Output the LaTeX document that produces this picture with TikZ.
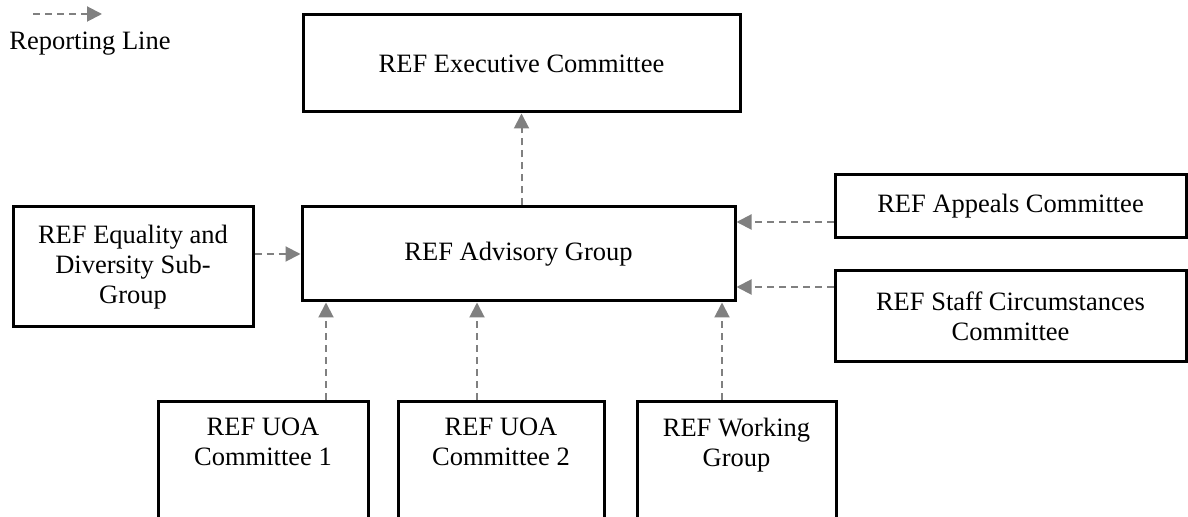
\documentclass[tikz,border=0pt]{standalone}
\usepackage{fontspec}
\setmainfont{Liberation Serif}
\usetikzlibrary{arrows.meta}
\definecolor{arrowgray}{RGB}{128,128,128}
\begin{document}
\begin{tikzpicture}[x=0.5pt,y=-0.5pt,
  box/.style={draw=black, line width=1.5pt, fill=white, rectangle, inner sep=2pt,
    align=center, font=\fontsize{13.25pt}{15pt}\selectfont},
  txt/.style={inner xsep=0pt, inner ysep=0pt, align=center, font=\fontsize{13.25pt}{15pt}\selectfont},
  rep/.style={draw=arrowgray, line width=1pt, dash pattern=on 3.5pt off 2.5pt,
    -{Triangle[width=7.5pt,length=7.5pt]}}
]
\useasboundingbox (0,0) rectangle (1188,517);
\clip (0,0) rectangle (1188,517);

% legend
\coordinate (lg1) at (33,14);
\coordinate (lg2) at (102,14);
\draw[rep] (lg1) -- (lg2);
\node[txt, anchor=base west] (legt) at (9,50) {Reporting Line};

% main boxes
\node[box, minimum width=218.5pt, minimum height=48.5pt] (exec) at (521.5,63.5) {REF Executive Committee};
\node[box, minimum width=216.5pt, minimum height=47pt] (adv) at (518.5,254) {REF Advisory Group};
\node[box, minimum width=120pt, minimum height=60pt] (eq) at (133,267) {REF Equality and\\Diversity Sub-\\Group};
\node[box, minimum width=175.5pt, minimum height=31.5pt] (app) at (1010.5,206.5) {REF Appeals Committee};
\node[box, minimum width=175.5pt, minimum height=45.5pt] (staff) at (1010.5,316.5) {REF Staff Circumstances\\Committee};

% bottom boxes (cut by the lower edge)
\node[box, minimum width=105pt, minimum height=80pt, anchor=north] (uoa1) at (263,400) {};
\node[box, minimum width=103pt, minimum height=80pt, anchor=north] (uoa2) at (501,400) {};
\node[box, minimum width=99.5pt, minimum height=80pt, anchor=north] (wg) at (736.5,400) {};
\node[txt, anchor=north, inner ysep=9pt] (uoa1t) at (uoa1.north) {REF UOA\\Committee 1};
\node[txt, anchor=north, inner ysep=9pt] (uoa2t) at (uoa2.north) {REF UOA\\Committee 2};
\node[txt, anchor=north, inner ysep=9pt] (wgt) at (wg.north) {REF Working\\Group};

% helper positions for connectors
\coordinate (ya1) at (0,222);
\coordinate (ya2) at (0,287);
\coordinate (xb1) at (326,0);
\coordinate (xb2) at (477,0);
\coordinate (xb3) at (722,0);

% connectors
\draw[rep] (adv.north -| exec.south) -- (exec.south);
\draw[rep] (adv.west -| eq.east) -- (adv.west);
\draw[rep] (app.west |- ya1) -- (adv.east |- ya1);
\draw[rep] (staff.west |- ya2) -- (adv.east |- ya2);
\draw[rep] (uoa1.north -| xb1) -- (adv.south -| xb1);
\draw[rep] (uoa2.north -| xb2) -- (adv.south -| xb2);
\draw[rep] (wg.north -| xb3) -- (adv.south -| xb3);
\end{tikzpicture}
\end{document}
